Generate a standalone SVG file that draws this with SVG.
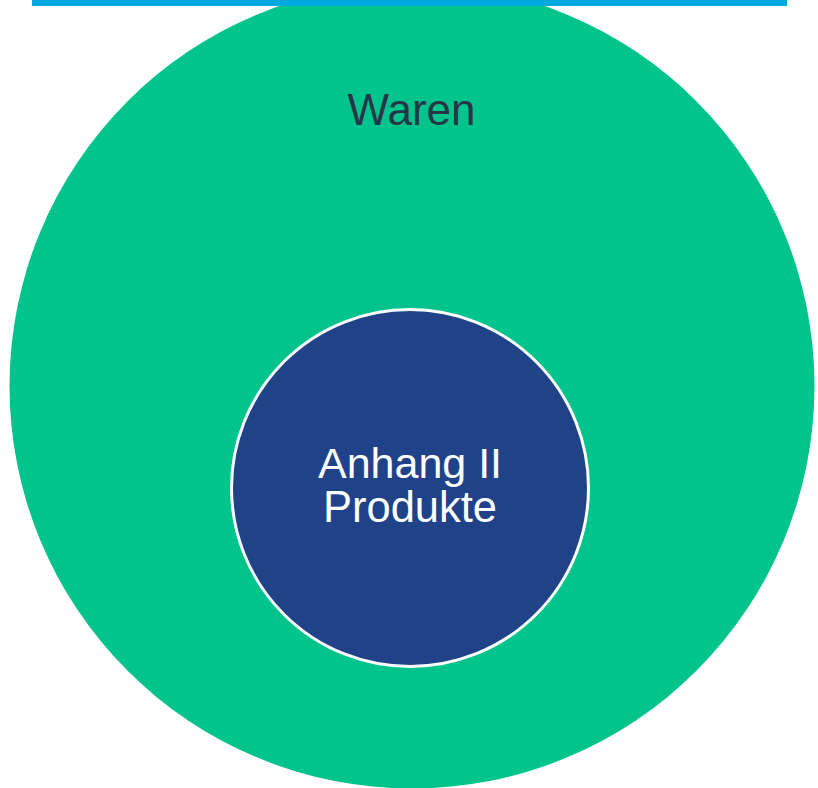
<svg xmlns="http://www.w3.org/2000/svg" width="818" height="788" viewBox="0 0 818 788">
<style>
.lbl{font-family:"Liberation Sans",Arial,sans-serif;text-anchor:middle}
</style>
<rect width="818" height="788" fill="#ffffff"/>
<g id="waren">
<circle cx="412" cy="386" r="402.5" fill="#00c48c"/>
<text class="lbl" x="411.5" y="125" font-size="44" fill="#253746">Waren</text>
</g>
<g id="anhang">
<circle cx="410" cy="488" r="178.5" fill="#1f4289" stroke="#ffffff" stroke-width="3"/>
<text class="lbl" x="410" y="478" font-size="43" fill="#ffffff">Anhang II</text>
<text class="lbl" x="410" y="522" font-size="43.5" fill="#ffffff">Produkte</text>
</g>
<rect id="topbar" x="32" y="0" width="755" height="6" fill="#00a8e0"/>
<g id="connectors"/>
</svg>
